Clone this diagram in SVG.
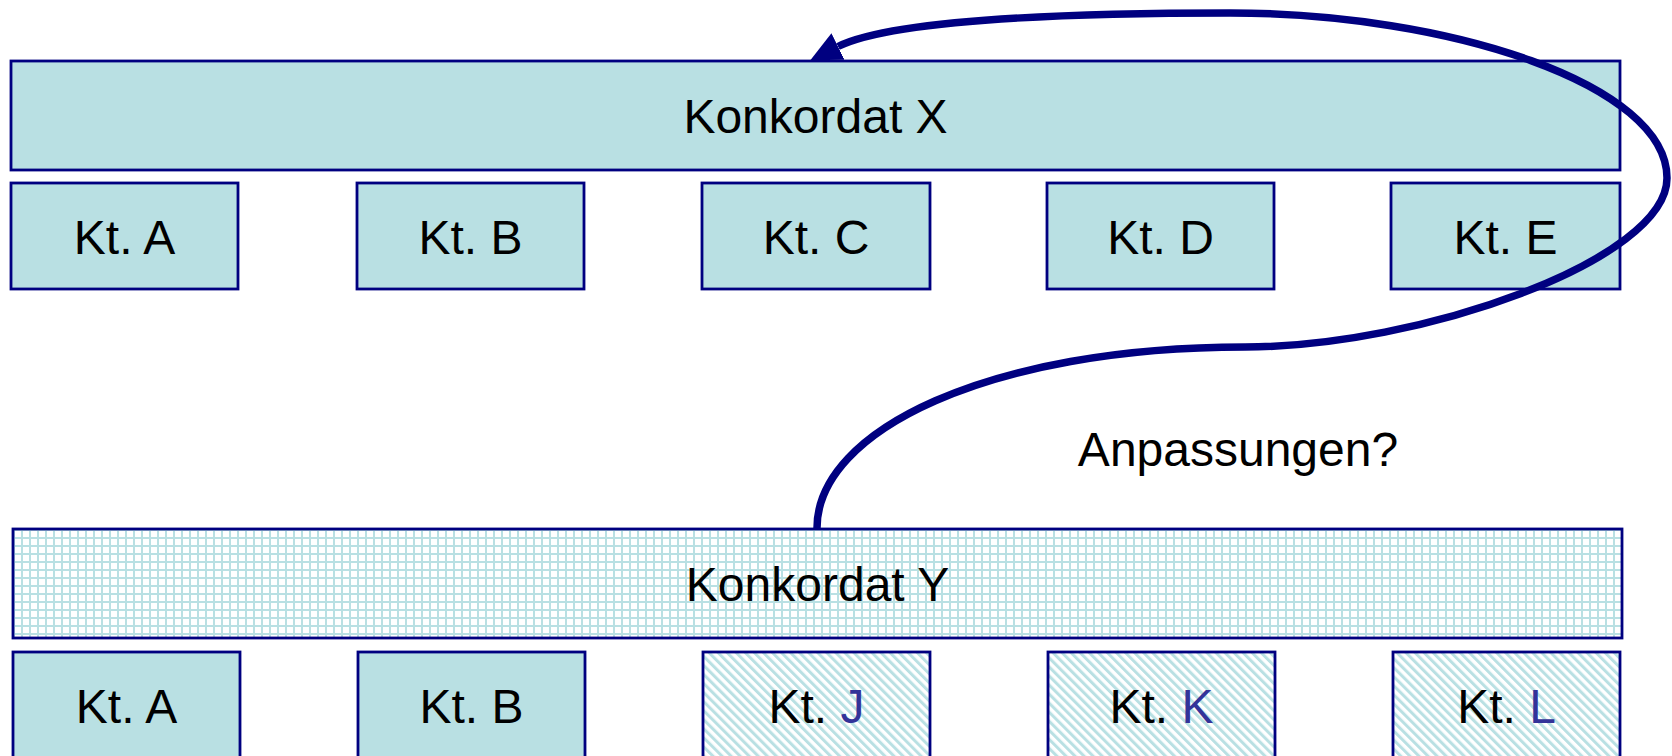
<svg xmlns="http://www.w3.org/2000/svg" width="1672" height="756" viewBox="0 0 1672 756">
<style>
.box{fill:#B9E0E3;stroke:#000080;stroke-width:2.8}
.grid{fill:url(#grid);stroke:#000080;stroke-width:2.8}
.hatch{fill:url(#hatch);stroke:#000080;stroke-width:2.8}
.t{font-family:"Liberation Sans",Arial,sans-serif;font-size:48px;fill:#000;text-anchor:middle}
.hl{fill:#333399}
.conn{fill:none;stroke:#000080;stroke-width:7.5}
</style>
<defs>
<pattern id="grid" patternUnits="userSpaceOnUse" width="8" height="8" x="13" y="529">
<rect width="8" height="8" fill="#fff"/>
<rect x="0" y="0" width="2" height="8" fill="#B9E0E3"/>
<rect x="0" y="0" width="8" height="2" fill="#B9E0E3"/>
</pattern>
<pattern id="hatch" patternUnits="userSpaceOnUse" width="6.4" height="10" patternTransform="rotate(-45)">
<rect width="6.4" height="10" fill="#fff"/>
<rect x="0" y="0" width="3" height="10" fill="#B9E0E3"/>
</pattern>
<marker id="arrow" markerUnits="userSpaceOnUse" markerWidth="32" markerHeight="32" viewBox="0 -14 28 28" refX="0" refY="0" orient="auto">
<path d="M0,-13 L27,0 L0,13 Z" fill="#000080"/>
</marker>
</defs>

<g id="konkordat-x">
<rect class="box" x="11" y="61" width="1609" height="109"/>
<text class="t" x="815.5" y="133">Konkordat X</text>
</g>
<g id="x-kt-a">
<rect class="box" x="11" y="183" width="227" height="106"/>
<text class="t" x="124.5" y="254">Kt. A</text>
</g>
<g id="x-kt-b">
<rect class="box" x="357" y="183" width="227" height="106"/>
<text class="t" x="470.5" y="254">Kt. B</text>
</g>
<g id="x-kt-c">
<rect class="box" x="702" y="183" width="228" height="106"/>
<text class="t" x="816" y="254">Kt. C</text>
</g>
<g id="x-kt-d">
<rect class="box" x="1047" y="183" width="227" height="106"/>
<text class="t" x="1160.5" y="254">Kt. D</text>
</g>
<g id="x-kt-e">
<rect class="box" x="1391" y="183" width="229" height="106"/>
<text class="t" x="1505.5" y="254">Kt. E</text>
</g>

<g id="konkordat-y">
<rect class="grid" x="13" y="529" width="1609" height="109"/>
<text class="t" x="817.5" y="601">Konkordat Y</text>
</g>
<g id="y-kt-a">
<rect class="box" x="13" y="652" width="227" height="108"/>
<text class="t" x="126.5" y="723">Kt. A</text>
</g>
<g id="y-kt-b">
<rect class="box" x="358" y="652" width="227" height="108"/>
<text class="t" x="471.5" y="723">Kt. B</text>
</g>
<g id="y-kt-j">
<rect class="hatch" x="703" y="652" width="227" height="108"/>
<text class="t" x="816.5" y="723">Kt. <tspan class="hl">J</tspan></text>
</g>
<g id="y-kt-k">
<rect class="hatch" x="1048" y="652" width="227" height="108"/>
<text class="t" x="1161.5" y="723">Kt. <tspan class="hl">K</tspan></text>
</g>
<g id="y-kt-l">
<rect class="hatch" x="1393" y="652" width="227" height="108"/>
<text class="t" x="1506.5" y="723">Kt. <tspan class="hl">L</tspan></text>
</g>

<g id="label-anpassungen">
<text class="t" x="1238" y="466">Anpassungen?</text>
</g>

<g id="connectors">
<path class="conn" marker-end="url(#arrow)" d="M817,528 C817,430 990,347 1245,347 C1420,347 1667,260 1667,178 C1667,85 1450,13 1230,13 C1050,13 891,20.4 838,46.5"/>
</g>
</svg>
